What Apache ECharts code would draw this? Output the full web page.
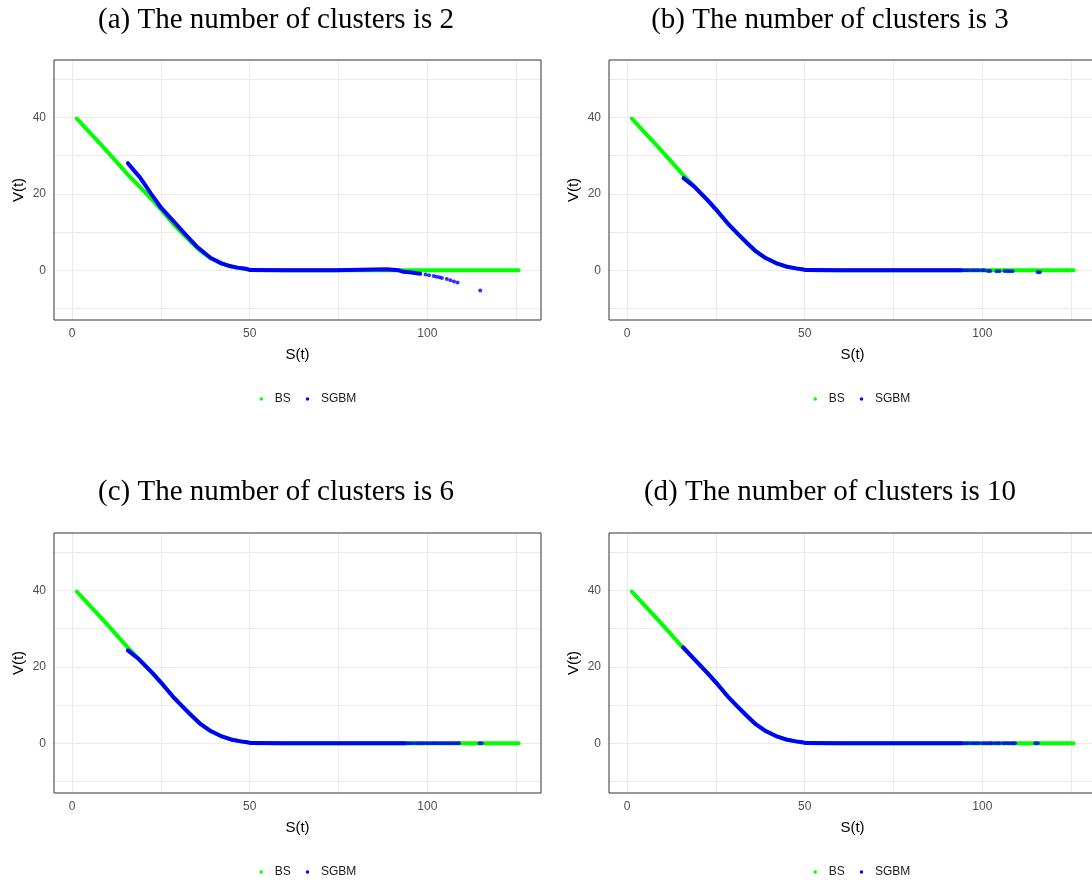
<!DOCTYPE html>
<html><head><meta charset="utf-8">
<script src="https://cdn.jsdelivr.net/npm/echarts@6/dist/echarts.min.js"></script>
<style>html,body{margin:0;padding:0;background:#fff}#c{width:1092px;height:886px}</style>
</head><body><div id="c"></div>
<script>
// ---- text ----
const panelTitles = ['(a) The number of clusters is 2', '(b) The number of clusters is 3',
                     '(c) The number of clusters is 6', '(d) The number of clusters is 10'];
const legendNames = ['BS', 'SGBM'];
const xAxisTitle = 'S(t)';
const yAxisTitle = 'V(t)';
// ---- ticks / grid ----
const xTickValues = [0, 50, 100];
const yTickValues = [0, 20, 40];
const xMinorGrid = [25, 75, 125];
const yMinorGrid = [-10, 10, 30, 50];

// ---- BS (same in every panel) ----
const bsS = [1.3, 4.0, 8.0, 12.0, 15.9, 19.0, 22.7, 25.5, 28.3, 31.1, 33.9, 36.2, 39.0, 41.9, 44.7, 47.5, 49.2, 50.3, 60.0, 80.0, 100.0, 125.7];
const bsV = [39.7, 37.0, 33.0, 28.9, 24.8, 21.9, 18.3, 15.4, 12.3, 9.6, 7.0, 5.0, 3.2, 1.9, 1.0, 0.5, 0.3, 0.05, 0, 0, 0, 0];

// ---- SGBM, 2 clusters ----
const sgbmA_S = [15.7, 17.5, 19.1, 22.1, 25.1, 29.1, 32.0, 35.0, 39.0, 42.0, 44.0, 46.5, 48.9, 50.2, 60.0, 74.0, 74.2, 88.6, 88.8, 92.0, 93.3, 95.0, 96.5, 98.0];
const sgbmA_V = [28.0, 26.0, 24.3, 20.2, 16.3, 12.3, 9.3, 6.3, 3.2, 1.8, 1.2, 0.7, 0.4, 0.05, 0, 0, 0.3, 0.3, 0, 0, -0.4, -0.5, -0.7, -0.9];
const sgbmA_tailS = [99.5, 100.5, 101.8, 102.6, 103.4, 104.1, 105.5, 106.5, 107.5, 108.5, 114.9];
const sgbmA_tailV = [-1.1, -1.3, -1.5, -1.7, -1.85, -2.0, -2.3, -2.6, -2.9, -3.2, -5.3];

// ---- SGBM, 3 clusters ----
const sgbmB_S = [15.9, 18.9, 22.7, 25.5, 28.3, 31.1, 33.9, 36.2, 39.0, 41.9, 44.7, 47.5, 49.2, 50.3, 60.0, 80.0, 94.2];
const sgbmB_V = [24.1, 21.9, 18.3, 15.4, 12.3, 9.6, 7.0, 5.0, 3.2, 1.9, 1.0, 0.5, 0.3, 0.05, 0, 0, 0];
const sgbmB_tailS = [94.8, 95.5, 96.1, 97.0, 97.7, 98.4, 99.1, 100.0, 100.6, 101.6, 102.2, 104.0, 104.8, 106.3, 107.0, 107.7, 108.5, 115.6, 116.2];
const sgbmB_tailV = [0, 0, 0, 0, 0, 0, 0, 0, 0, -0.2, -0.2, -0.25, -0.25, -0.2, -0.25, -0.25, -0.25, -0.5, -0.5];

// ---- SGBM, 6 clusters ----
const sgbmC_S = [15.7, 18.9, 22.7, 25.5, 28.3, 31.1, 33.9, 36.2, 39.0, 41.9, 44.7, 47.5, 49.2, 50.3, 60.0, 80.0, 93.8];
const sgbmC_V = [24.3, 21.9, 18.3, 15.4, 12.3, 9.6, 7.0, 5.0, 3.2, 1.9, 1.0, 0.5, 0.3, 0.05, 0, 0, 0];
const sgbmC_tailS = [94.5, 95.2, 95.9, 96.8, 97.5, 98.2, 98.8, 99.6, 100.3, 101.0, 101.7, 102.2, 102.9, 103.6, 104.3, 104.9, 105.7, 106.4, 107.1, 107.8, 108.5, 108.9, 114.7, 115.3];
const sgbmC_tailV = [0, 0, 0, 0, 0, 0, 0, 0, 0, 0, 0, 0, 0, 0, 0, 0, 0, 0, 0, 0, 0, 0, 0, 0];

// ---- SGBM, 10 clusters ----
const sgbmD_S = [15.8, 18.9, 22.7, 25.5, 28.3, 31.1, 33.9, 36.2, 39.0, 41.9, 44.7, 47.5, 49.2, 50.3, 60.0, 80.0, 94.2];
const sgbmD_V = [25.1, 22.0, 18.3, 15.4, 12.3, 9.6, 7.0, 5.0, 3.2, 1.9, 1.0, 0.5, 0.3, 0.05, 0, 0, 0];
const sgbmD_tailS = [94.8, 95.5, 96.1, 97.0, 97.7, 98.4, 99.1, 100.1, 100.8, 101.5, 102.3, 102.7, 103.6, 104.3, 104.9, 105.9, 106.6, 107.3, 108.0, 108.7, 109.2, 114.9, 115.6];
const sgbmD_tailV = [0, 0, 0, 0, 0, 0, 0, 0, 0, 0, 0, 0, 0, 0, 0, 0, 0, 0, 0, 0, 0, 0, 0];

const zip = (a, b) => a.map((v, i) => [v, b[i]]);
const panels = [
  { line: zip(sgbmA_S, sgbmA_V), tail: zip(sgbmA_tailS, sgbmA_tailV) },
  { line: zip(sgbmB_S, sgbmB_V), tail: zip(sgbmB_tailS, sgbmB_tailV) },
  { line: zip(sgbmC_S, sgbmC_V), tail: zip(sgbmC_tailS, sgbmC_tailV) },
  { line: zip(sgbmD_S, sgbmD_V), tail: zip(sgbmD_tailS, sgbmD_tailV) }
];

// ---- layout ----
const gridPos = [[54, 60], [609, 60], [54, 533], [609, 533]];
const titlePos = [[276, 20], [830, 20], [276, 492], [830, 492]];
const legendPos = [[259.5, 393], [813.5, 393], [259.5, 866], [813.5, 866]];
const GREEN = '#00ff00', BLUE = '#0000ff';
const SANS = '"Liberation Sans", Arial, sans-serif';

const option = { animation: false, backgroundColor: '#ffffff', grid: [], xAxis: [], yAxis: [], series: [], legend: [], graphic: [] };

panels.forEach((p, i) => {
  const [gl, gt] = gridPos[i];
  option.grid.push({ left: gl, top: gt, width: 487, height: 260, show: true, z: 10,
    backgroundColor: 'transparent', borderColor: '#333333', borderWidth: 1,
    containLabel: false, outerBoundsMode: 'none' });
  option.xAxis.push({ gridIndex: i, type: 'value', min: -5.1, max: 132,
    name: xAxisTitle, nameLocation: 'middle', nameGap: 27, nameMoveOverlap: false,
    nameTextStyle: { fontSize: 15, color: '#000', fontFamily: SANS },
    axisLine: { show: false },
    axisTick: { show: true, length: 4, customValues: xTickValues, lineStyle: { color: '#333333', width: 1 } },
    axisLabel: { customValues: xTickValues, margin: 8, fontSize: 12, color: '#4d4d4d', fontFamily: SANS },
    splitLine: { show: false } });
  option.yAxis.push({ gridIndex: i, type: 'value', min: -13, max: 55,
    name: yAxisTitle, nameLocation: 'middle', nameGap: 28, nameMoveOverlap: false,
    nameTextStyle: { fontSize: 15, color: '#000', fontFamily: SANS },
    axisLine: { show: false },
    axisTick: { show: true, length: 4, customValues: yTickValues, lineStyle: { color: '#333333', width: 1 } },
    axisLabel: { customValues: yTickValues, margin: 8, fontSize: 12, color: '#4d4d4d', fontFamily: SANS },
    splitLine: { show: false } });

  // panel grid lines (major + minor)
  const gl_data = [];
  yTickValues.concat(yMinorGrid).forEach(v => gl_data.push({ yAxis: v }));
  xTickValues.concat(xMinorGrid).forEach(v => gl_data.push({ xAxis: v }));
  option.series.push({ type: 'line', name: 'grid' + i, xAxisIndex: i, yAxisIndex: i,
    data: [[0, 0]], showSymbol: false, lineStyle: { opacity: 0 }, silent: true, z: 1,
    markLine: { silent: true, z: 1, symbol: ['none', 'none'], label: { show: false },
      lineStyle: { color: '#ebebeb', width: 1, type: 'solid' }, emphasis: { disabled: true },
      animation: false, data: gl_data } });

  option.series.push({ type: 'line', name: 'BS', xAxisIndex: i, yAxisIndex: i, data: zip(bsS, bsV),
    showSymbol: false, symbol: 'circle', smooth: false, z: 2,
    lineStyle: { color: GREEN, width: 4, cap: 'round', join: 'round' }, itemStyle: { color: GREEN }, emphasis: { disabled: true } });
  option.series.push({ type: 'line', name: 'SGBM', xAxisIndex: i, yAxisIndex: i, data: p.line,
    showSymbol: false, symbol: 'circle', smooth: false, z: 3,
    lineStyle: { color: BLUE, width: 4, cap: 'round', join: 'round' }, itemStyle: { color: BLUE }, emphasis: { disabled: true } });
  option.series.push({ type: 'scatter', name: 'SGBM', xAxisIndex: i, yAxisIndex: i, data: p.tail,
    symbol: 'circle', symbolSize: 4, z: 3, itemStyle: { color: BLUE }, emphasis: { disabled: true } });

  const [lx, ly] = legendPos[i];
  option.legend.push({ data: legendNames, left: lx, top: ly, orient: 'horizontal', icon: 'circle',
    itemWidth: 17, itemHeight: 3.5, itemGap: 15, symbolKeepAspect: true, selectedMode: false,
    itemStyle: { borderWidth: 0 }, padding: 0,
    textStyle: { fontSize: 12, color: '#1a1a1a', fontFamily: SANS } });

  const [tx, ty] = titlePos[i];
  option.graphic.push({ type: 'text', x: tx, y: ty, silent: true,
    style: { text: panelTitles[i], font: '29px "Liberation Serif", serif', fill: '#000',
      textAlign: 'center', align: 'center', textVerticalAlign: 'middle', verticalAlign: 'middle' } });
});

const chart = echarts.init(document.getElementById('c'), null, { renderer: 'canvas' });
chart.setOption(option);
</script>
</body></html>
